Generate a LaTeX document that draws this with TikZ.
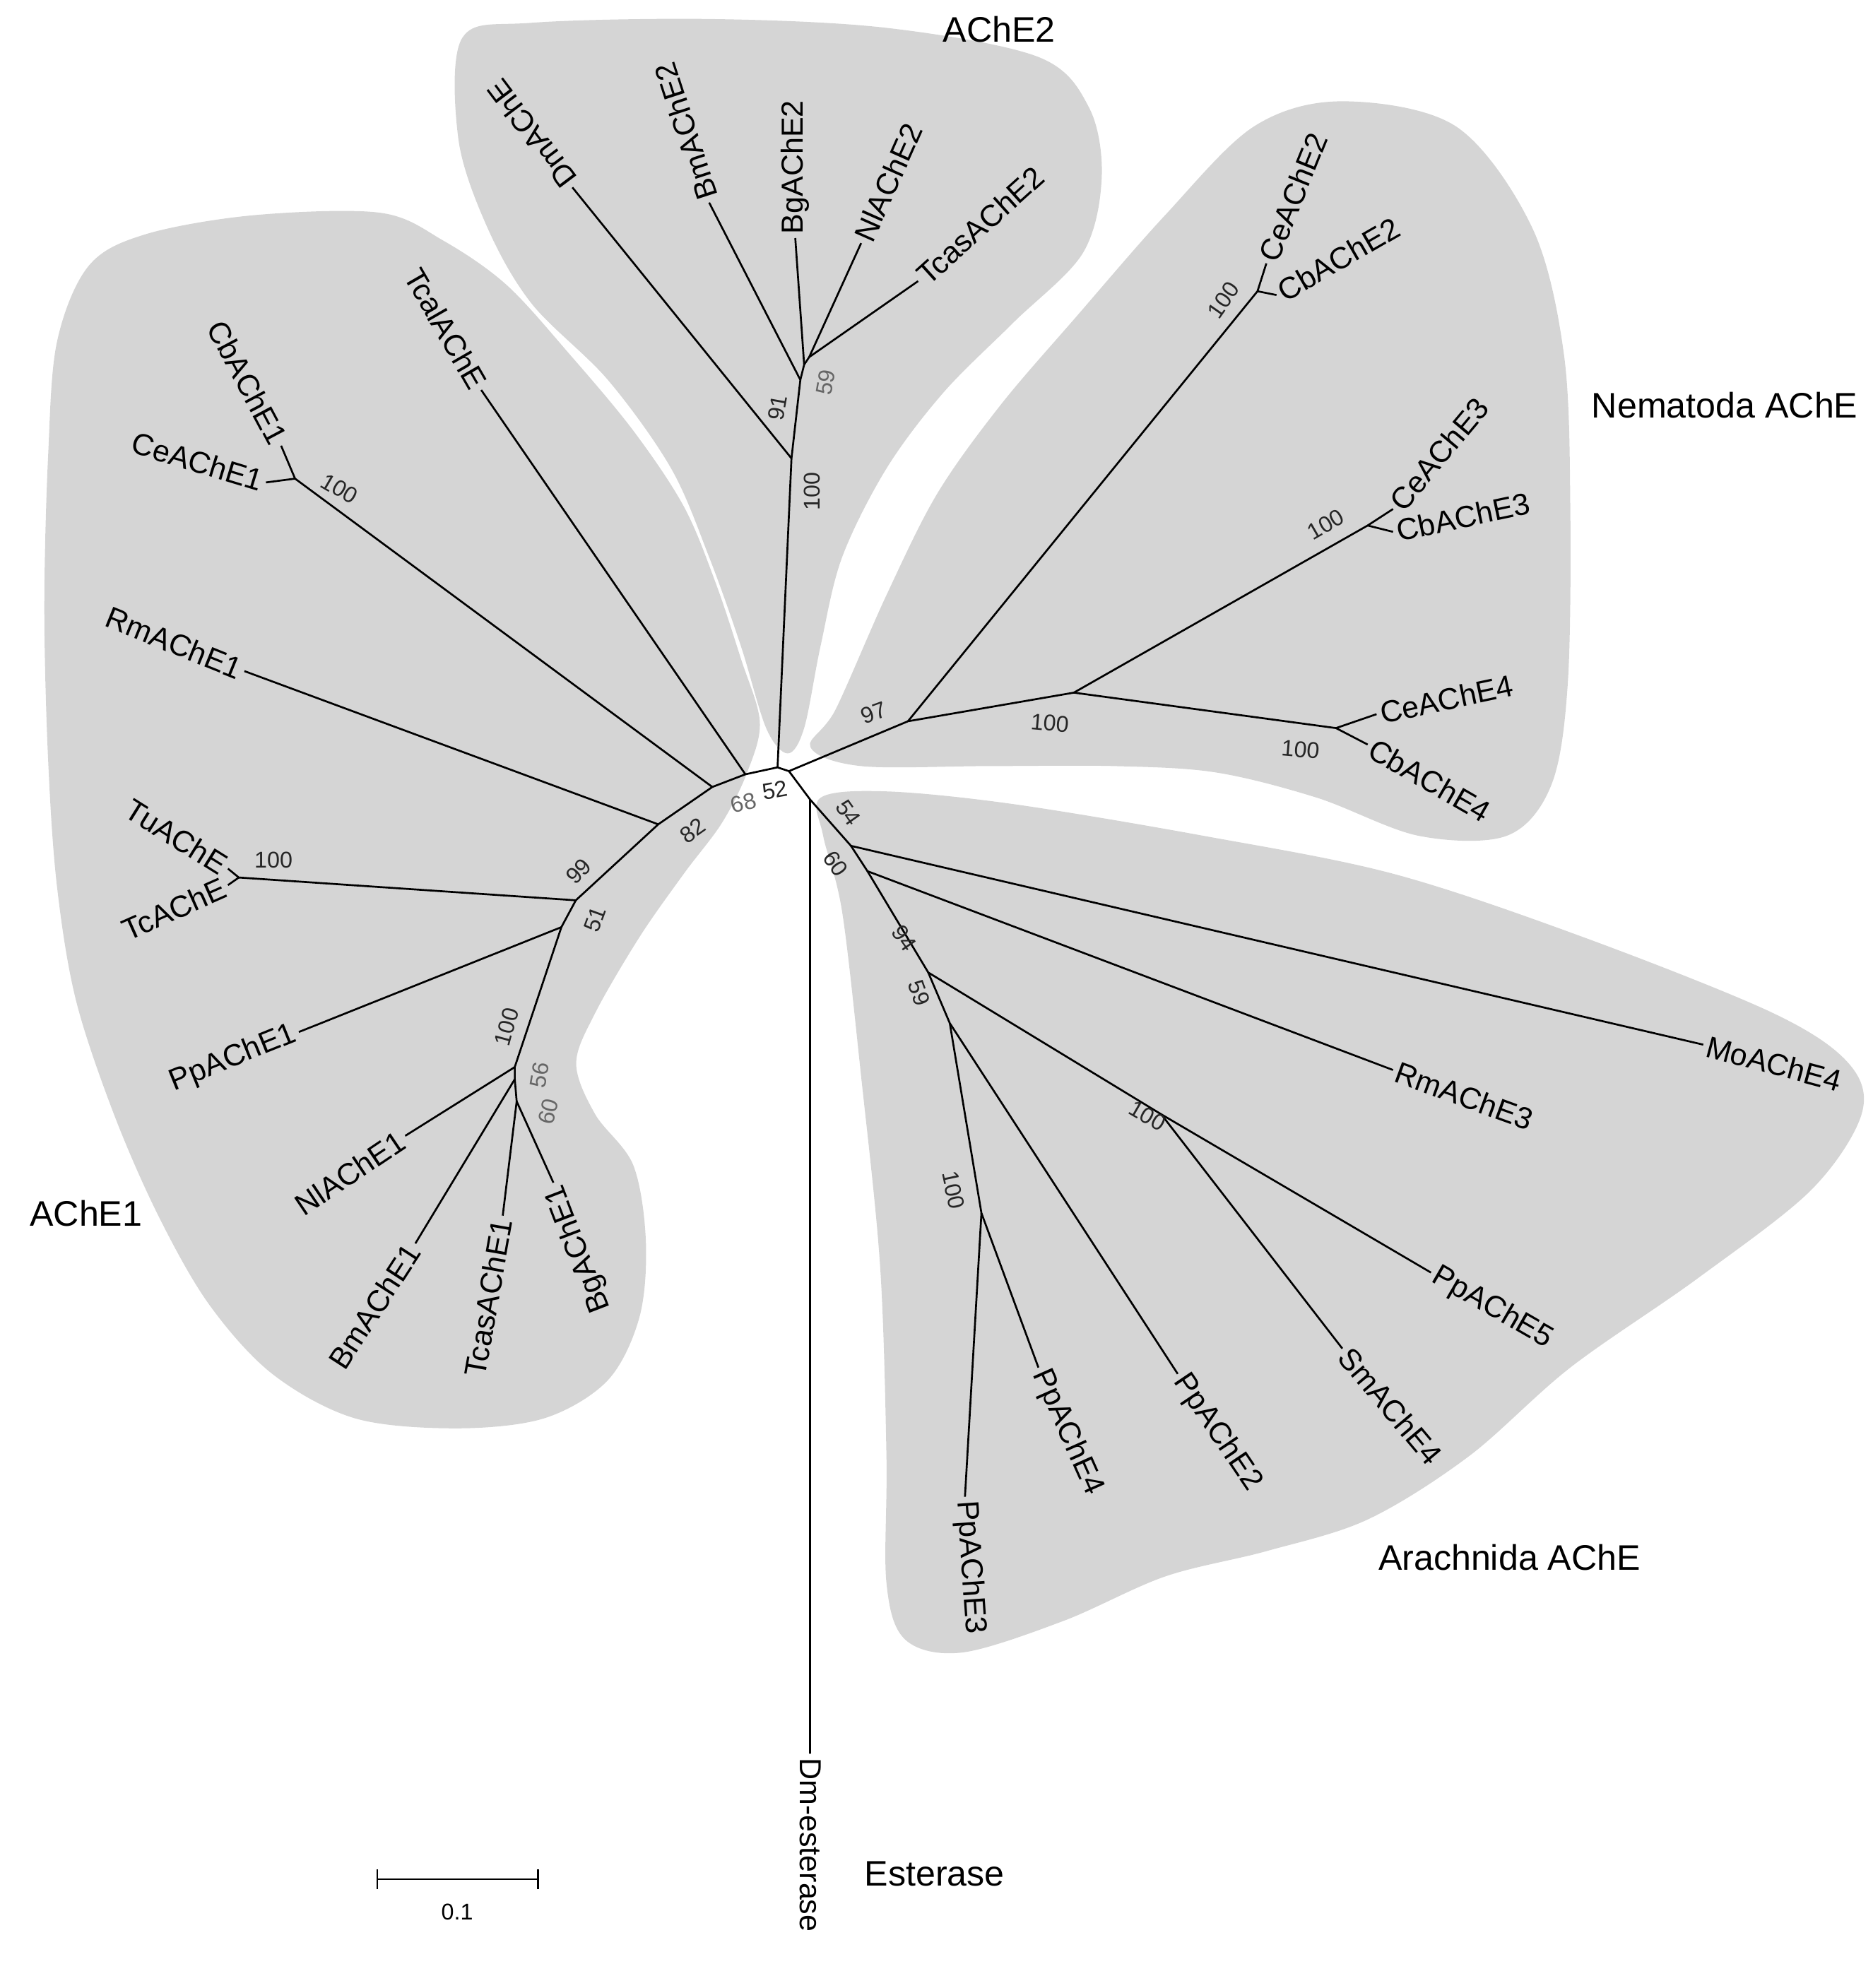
\documentclass[tikz,border=0pt]{standalone}
\usepackage{fontspec}
\setmainfont{Liberation Sans}
\begin{document}
\begin{tikzpicture}[x=1pt,y=-1pt,
  br/.style={line width=1.5pt,black},
  blob/.style={fill=gray!33,draw=none},
  lab/.style={font=\fontsize{24}{27}\selectfont,inner sep=3pt},
  bs/.style={font=\fontsize{18}{20}\selectfont,inner sep=0pt,text=black!85},
  bsg/.style={bs,text=black!60},
  clade/.style={font=\fontsize{28}{31}\selectfont,inner sep=0pt}]
\useasboundingbox (0,0) rectangle (1479,1570);
% clade backgrounds
\fill[blob] plot[smooth cycle,tension=0.55] coordinates {(115,185)(200,170)(300,168)(350,190)(400,225)(450,280)(500,340)(540,400)(565,460)(585,520)(600,570)(590,610)(570,650)(540,690)(505,740)(470,800)(455,840)(470,880)(500,920)(510,980)(505,1040)(480,1090)(430,1120)(360,1128)(280,1120)(215,1085)(165,1030)(125,960)(90,880)(60,790)(45,700)(38,600)(35,480)(38,360)(45,270)(70,210)};
\fill[blob] plot[smooth cycle,tension=0.55] coordinates {(365,30)(420,18)(560,15)(700,22)(820,45)(860,85)(870,140)(855,200)(800,255)(745,310)(700,370)(665,440)(648,510)(635,575)(622,595)(605,575)(585,510)(560,440)(530,370)(480,300)(420,240)(385,180)(362,110)};
\fill[blob] plot[smooth cycle,tension=0.55] coordinates {(640,590)(660,560)(700,470)(740,390)(790,320)(850,250)(920,170)(990,100)(1060,80)(1150,100)(1210,180)(1235,280)(1240,400)(1238,540)(1225,620)(1190,660)(1120,660)(1040,630)(960,610)(880,605)(780,605)(680,605)};
\fill[blob] plot[smooth cycle,tension=0.55] coordinates {(648,630)(700,625)(800,635)(950,660)(1100,690)(1250,740)(1400,800)(1460,840)(1470,880)(1430,940)(1340,1010)(1240,1080)(1160,1150)(1080,1200)(1000,1225)(920,1245)(840,1280)(760,1305)(715,1295)(700,1250)(700,1150)(695,1000)(680,850)(665,720)(650,660)};
% internal nodes
\coordinate (r0) at (614,606);
\coordinate (r1) at (623,609);
\coordinate (n68) at (588.6,611.5);
\coordinate (n82) at (562.5,621.5);
\coordinate (n99a) at (519.8,651);
\coordinate (n99) at (454.7,711);
\coordinate (nCb1) at (233,378);
\coordinate (nTc) at (188.6,693);
\coordinate (n51) at (443.3,732.2);
\coordinate (n100) at (406.5,842.7);
\coordinate (n56) at (406.5,852.3);
\coordinate (n60) at (408,869.8);
\coordinate (n100b) at (625,362);
\coordinate (n91) at (632,300);
\coordinate (n59a) at (635,288);
\coordinate (n59b) at (639,282);
\coordinate (n97) at (717,569.6);
\coordinate (nCe2) at (993,230);
\coordinate (nNem) at (848,547);
\coordinate (nCe3) at (1080,415);
\coordinate (nCe4) at (1055,575);
\coordinate (nDm) at (639.7,631.4);
\coordinate (n54) at (672,668);
\coordinate (n60b) at (685,688);
\coordinate (n94) at (733,768);
\coordinate (nSm) at (917,880);
\coordinate (n59c) at (750,808);
\coordinate (nPp3) at (775,958);
% tips
\coordinate (tTcal) at (380,308);
\coordinate (tCb1) at (222,352);
\coordinate (tCe1) at (210,381);
\coordinate (tRm1) at (193,530);
\coordinate (tTu) at (180,686);
\coordinate (tTc) at (180,699);
\coordinate (tPp1) at (236,815);
\coordinate (tNl1) at (320,897);
\coordinate (tBm1) at (328,982);
\coordinate (tTcas1) at (397,960);
\coordinate (tBg1) at (437,934);
\coordinate (tDm) at (452,148);
\coordinate (tBm2) at (560,160);
\coordinate (tBg2) at (628,188);
\coordinate (tNl2) at (680,192);
\coordinate (tTcas2) at (725,222);
\coordinate (tCe2) at (1000,208);
\coordinate (tCb2) at (1008,233);
\coordinate (tCe3) at (1100,402);
\coordinate (tCb3) at (1100,420);
\coordinate (tCe4) at (1087,564);
\coordinate (tCb4) at (1080,588);
\coordinate (tEst) at (639.7,1385);
\coordinate (tMo) at (1345,825);
\coordinate (tRm3) at (1100,845);
\coordinate (tPp5) at (1130,1005);
\coordinate (tSm4) at (1060,1065);
\coordinate (tPp2) at (930,1085);
\coordinate (tPp4) at (820,1080);
\coordinate (tPp3) at (762,1182);
% branches
\draw[br] (tEst) -- (nDm) -- (r1) -- (r0) -- (n68) -- (n82) -- (n99a) -- (n99) -- (n51) -- (n100) -- (n56) -- (n60);
\draw[br] (r0) -- (n100b) -- (n91) -- (n59a) -- (n59b);
\draw[br] (n68) -- (tTcal);
\draw[br] (n82) -- (nCb1) -- (tCb1); \draw[br] (nCb1) -- (tCe1);
\draw[br] (n99a) -- (tRm1);
\draw[br] (n99) -- (nTc) -- (tTu); \draw[br] (nTc) -- (tTc);
\draw[br] (n51) -- (tPp1);
\draw[br] (n100) -- (tNl1);
\draw[br] (n56) -- (tBm1);
\draw[br] (n60) -- (tTcas1); \draw[br] (n60) -- (tBg1);
\draw[br] (n100b) -- (tDm);
\draw[br] (n91) -- (tBm2);
\draw[br] (n59a) -- (tBg2);
\draw[br] (n59b) -- (tNl2); \draw[br] (n59b) -- (tTcas2);
\draw[br] (r1) -- (n97) -- (nNem) -- (nCe4) -- (tCe4); \draw[br] (nCe4) -- (tCb4);
\draw[br] (n97) -- (nCe2) -- (tCe2); \draw[br] (nCe2) -- (tCb2);
\draw[br] (nNem) -- (nCe3) -- (tCe3); \draw[br] (nCe3) -- (tCb3);
\draw[br] (nDm) -- (n54) -- (tMo);
\draw[br] (n54) -- (n60b) -- (tRm3);
\draw[br] (n60b) -- (n94) -- (nSm) -- (tPp5); \draw[br] (nSm) -- (tSm4);
\draw[br] (n94) -- (n59c) -- (tPp2);
\draw[br] (n59c) -- (nPp3) -- (tPp4); \draw[br] (nPp3) -- (tPp3);
% taxon labels
\node[lab,anchor=east,rotate=-60] (lTcal) at (tTcal) {TcalAChE};
\node[lab,anchor=east,rotate=-62] (lCb1) at (tCb1) {CbAChE1};
\node[lab,anchor=east,rotate=-17] (lCe1) at (tCe1) {CeAChE1};
\node[lab,anchor=east,rotate=-22] (lRm1) at (tRm1) {RmAChE1};
\node[lab,anchor=east,rotate=-32] (lTu) at (tTu) {TuAChE};
\node[lab,anchor=east,rotate=24] (lTc) at (tTc) {TcAChE};
\node[lab,anchor=east,rotate=22] (lPp1) at (tPp1) {PpAChE1};
\node[lab,anchor=east,rotate=34] (lNl1) at (tNl1) {NlAChE1};
\node[lab,anchor=east,rotate=57] (lBm1) at (tBm1) {BmAChE1};
\node[lab,anchor=east,rotate=80] (lTcas1) at (tTcas1) {TcasAChE1};
\node[lab,anchor=east,rotate=111] (lBg1) at (tBg1) {BgAChE1};
\node[lab,anchor=west,rotate=127] (lDm) at (tDm) {DmAChE};
\node[lab,anchor=west,rotate=108] (lBm2) at (tBm2) {BmAChE2};
\node[lab,anchor=west,rotate=90] (lBg2) at (tBg2) {BgAChE2};
\node[lab,anchor=west,rotate=66] (lNl2) at (tNl2) {NlAChE2};
\node[lab,anchor=west,rotate=42] (lTcas2) at (tTcas2) {TcasAChE2};
\node[lab,anchor=west,rotate=68] (lCe2) at (tCe2) {CeAChE2};
\node[lab,anchor=west,rotate=30] (lCb2) at (tCb2) {CbAChE2};
\node[lab,anchor=west,rotate=50] (lCe3) at (tCe3) {CeAChE3};
\node[lab,anchor=west,rotate=12] (lCb3) at (tCb3) {CbAChE3};
\node[lab,anchor=west,rotate=12] (lCe4) at (tCe4) {CeAChE4};
\node[lab,anchor=west,rotate=-30] (lCb4) at (tCb4) {CbAChE4};
\node[lab,anchor=west,rotate=-90] (lEst) at (tEst) {Dm-esterase};
\node[lab,anchor=west,rotate=-15] (lMo) at (tMo) {MoAChE4};
\node[lab,anchor=west,rotate=-20] (lRm3) at (tRm3) {RmAChE3};
\node[lab,anchor=west,rotate=-30] (lPp5) at (tPp5) {PpAChE5};
\node[lab,anchor=west,rotate=-50] (lSm4) at (tSm4) {SmAChE4};
\node[lab,anchor=west,rotate=-56] (lPp2) at (tPp2) {PpAChE2};
\node[lab,anchor=west,rotate=-66] (lPp4) at (tPp4) {PpAChE4};
\node[lab,anchor=west,rotate=-86] (lPp3) at (tPp3) {PpAChE3};
% bootstrap values
\node[bs,rotate=-30] (b1) at (268,386) {100};
\node[bs] (b2) at (216,679) {100};
\node[bs,rotate=45] (b3) at (457,688) {99};
\node[bs,rotate=70] (b4) at (470,726) {51};
\node[bs,rotate=75] (b5) at (400,811) {100};
\node[bsg,rotate=80] (b6) at (426,849) {56};
\node[bsg,rotate=75] (b7) at (433,878) {60};
\node[bs,rotate=35] (b8) at (547,656) {82};
\node[bsg,rotate=15] (b9) at (587,634) {68};
\node[bs,rotate=10] (b10) at (612,624) {52};
\node[bs,rotate=20] (b11) at (690,563) {97};
\node[bs,rotate=-55] (b12) at (670,642) {54};
\node[bs,rotate=-55] (b13) at (660,682) {60};
\node[bs,rotate=90] (b14) at (641,388) {100};
\node[bs,rotate=80] (b15) at (614,322) {91};
\node[bsg,rotate=80] (b16) at (652,302) {59};
\node[bs,rotate=55] (b17) at (966,237) {100};
\node[bs,rotate=30] (b18) at (1047,414) {100};
\node[bs,rotate=-5] (b19) at (829,571) {100};
\node[bs,rotate=-5] (b20) at (1027,592) {100};
\node[bs,rotate=-55] (b21) at (714,741) {94};
\node[bs,rotate=-70] (b22) at (726,784) {59};
\node[bs,rotate=-30] (b23) at (906,881) {100};
\node[bs,rotate=-78] (b24) at (753,940) {100};
% clade names
\node[clade] (cA2) at (789,23) {AChE2};
\node[clade] (cNem) at (1362,320) {Nematoda AChE};
\node[clade] (cA1) at (68,958) {AChE1};
\node[clade] (cAr) at (1192,1230) {Arachnida AChE};
\node[clade] (cEst) at (738,1480) {Esterase};
% scale bar
\coordinate (s0) at (298,1484);
\coordinate (s1) at (425,1484);
\draw[line width=1.5pt] (s0) -- (s1);
\draw[line width=1.5pt] ([yshift=-8pt]s0) -- ([yshift=8pt]s0);
\draw[line width=1.5pt] ([yshift=-8pt]s1) -- ([yshift=8pt]s1);
\node[bs,text=black] (sl) at (361,1510) {0.1};
\end{tikzpicture}
\end{document}
